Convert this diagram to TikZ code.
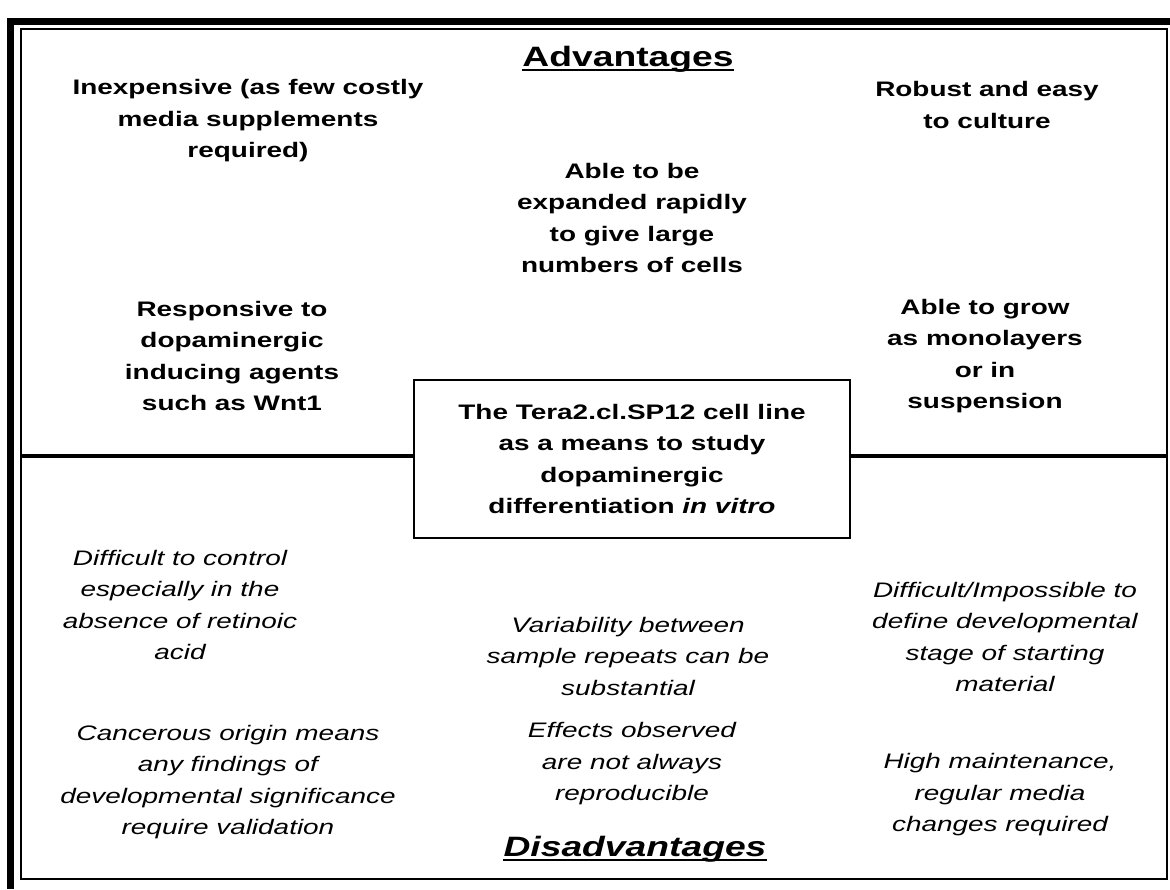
\documentclass[tikz,border=0pt]{standalone}
\usepackage{fontspec}
\setmainfont{Liberation Sans}[FakeStretch=1.33]
\begin{document}
\begin{tikzpicture}[x=1pt, y=-1pt,
	pro/.style={font=\fontsize{21}{31.5}\selectfont\bfseries, align=center},
	con/.style={font=\fontsize{21}{31.5}\selectfont\itshape, align=center},
	heading/.style={font=\fontsize{28}{32}\selectfont\bfseries, inner sep=0pt}]
	\useasboundingbox (0,0) rectangle (1170,889);
	% frame
	\draw[line width=7pt] (10.5,889) -- (10.5,21) -- (1170,21);
	\draw[line width=2.5pt] (21,29) rectangle (1167,879);
	% centre box and divider
	\node[draw, line width=1.5pt, pro, minimum width=436pt, minimum height=158pt] (tera) at (632,459)
		{The Tera2.cl.SP12 cell line\\as a means to study\\dopaminergic\\differentiation \textit{in vitro}};
	\coordinate (divL) at (21,456);
	\coordinate (divR) at (1167,456);
	\draw[line width=4pt] (divL) -- (divL -| tera.west);
	\draw[line width=4pt] (tera.east |- divR) -- (divR);
	% advantages
	\node[heading] (adv) at (628,59) {Advantages};
	\draw[line width=2.2pt] ([yshift=-4pt]adv.base west) -- ([yshift=-4pt]adv.base east);
	\node[pro] (cheap) at (248,121) {Inexpensive (as few costly\\media supplements\\required)};
	\node[pro] (robust) at (987,105) {Robust and easy\\to culture};
	\node[pro] (expand) at (632,218) {Able to be\\expanded rapidly\\to give large\\numbers of cells};
	\node[pro] (wnt) at (232,356) {Responsive to\\dopaminergic\\inducing agents\\such as Wnt1};
	\node[pro] (grow) at (985,356) {Able to grow\\as monolayers\\or in\\suspension};
	% disadvantages
	\node[con] (control) at (180,605) {Difficult to control\\especially in the\\absence of retinoic\\acid};
	\node[con] (repeats) at (628,656) {Variability between\\sample repeats can be\\substantial};
	\node[con] (stage) at (1005,637) {Difficult/Impossible to\\define developmental\\stage of starting\\material};
	\node[con] (cancer) at (228,782) {Cancerous origin means\\any findings of\\developmental significance\\require validation};
	\node[con] (effects) at (632,764) {Effects observed\\are not always\\reproducible};
	\node[con] (upkeep) at (1000,795) {High maintenance,\\regular media\\changes required};
	\node[heading, font=\fontsize{28}{32}\selectfont\bfseries\itshape] (disadv) at (635,849) {Disadvantages};
	\draw[line width=2.2pt] ([yshift=-4pt]disadv.base west) -- ([yshift=-4pt]disadv.base east);
\end{tikzpicture}
\end{document}
